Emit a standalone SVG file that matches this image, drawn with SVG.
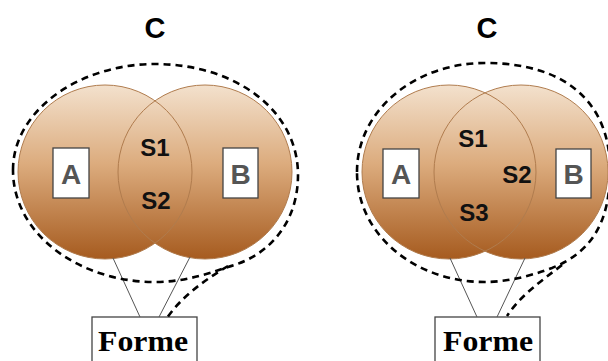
<svg xmlns="http://www.w3.org/2000/svg" width="608" height="361" viewBox="0 0 608 361">
<defs>
<linearGradient id="g" x1="0" y1="0" x2="0" y2="1">
<stop offset="0" stop-color="#f3e1cd"/>
<stop offset="0.45" stop-color="#dcac7e"/>
<stop offset="1" stop-color="#a65b1f"/>
</linearGradient>
</defs>
<style>
.circ{fill:url(#g);stroke:none}
.circs{fill:none;stroke:#b07c4e;stroke-width:1}
.bub{fill:none;stroke:#000;stroke-width:2.6;stroke-dasharray:7 5}
.box{fill:#fff;stroke:#444;stroke-width:1.3}
.lab{font-family:"Liberation Sans",Arial,sans-serif;font-weight:bold;font-size:28px;fill:#555;text-anchor:middle}
.s{font-family:"Liberation Sans",Arial,sans-serif;font-weight:bold;font-size:24px;fill:#111;text-anchor:middle}
.t{font-family:"Liberation Sans",Arial,sans-serif;font-weight:bold;font-size:29px;fill:#000;text-anchor:middle}
.f{font-family:"Liberation Serif","Times New Roman",serif;font-weight:bold;font-size:30px;fill:#000}
.ln{stroke:#555;stroke-width:1;fill:none}
</style>
<g id="left">
<text class="t" x="155" y="38">C</text>
<g id="left-venn">
<circle class="circ" cx="105" cy="172" r="87"/>
<circle class="circ" cx="205" cy="172" r="87"/>
<circle class="circs" cx="105" cy="172" r="87"/>
<circle class="circs" cx="205" cy="172" r="87"/>
</g>
<g id="left-A"><rect class="box" x="53" y="148" width="36" height="50"/><text class="lab" x="71" y="184">A</text></g>
<g id="left-B"><rect class="box" x="223" y="148" width="35" height="50"/><text class="lab" x="240.5" y="184">B</text></g>
<g id="left-S"><text class="s" x="155" y="156">S1</text><text class="s" x="156" y="209">S2</text></g>
<g id="left-forme"><rect class="box" x="92" y="317" width="105" height="60"/><text class="f" x="98" y="351" textLength="90" lengthAdjust="spacingAndGlyphs">Forme</text></g>
</g>
<g id="right">
<text class="t" x="487" y="38">C</text>
<g id="right-venn">
<circle class="circ" cx="449" cy="172" r="87"/>
<circle class="circ" cx="521" cy="172" r="87"/>
<circle class="circs" cx="449" cy="172" r="87"/>
<circle class="circs" cx="521" cy="172" r="87"/>
</g>
<g id="right-A"><rect class="box" x="383" y="149" width="36" height="49"/><text class="lab" x="401" y="184">A</text></g>
<g id="right-B"><rect class="box" x="556" y="149" width="35" height="49"/><text class="lab" x="573.5" y="184">B</text></g>
<g id="right-S"><text class="s" x="473" y="147">S1</text><text class="s" x="517" y="183">S2</text><text class="s" x="474" y="221">S3</text></g>
<g id="right-forme"><rect class="box" x="435" y="317" width="105" height="60"/><text class="f" x="443" y="351" textLength="90" lengthAdjust="spacingAndGlyphs">Forme</text></g>
</g>
<g id="connectors">
<path class="ln" d="M113 258 L140 317 M190 257 L159 317"/>
<path class="ln" d="M450 258 L477 317 M525 258 L497 317"/>
<path class="bub" d="M13 170 C13 110 80 64 155 64 C235 64 298 110 298 175 C298 220 272 255 228 267 C202 276 180 282 155 282 C80 282 13 235 13 170 Z"/>
<path class="bub" d="M228 266 C205 280 182 296 167 318"/>
<path class="bub" d="M357 172 C357 110 415 63 485 63 C563 63 610 100 610 170 C610 222 592 252 552 268 C528 277 505 282 485 282 C415 282 357 235 357 172 Z"/>
<path class="bub" d="M562 265 C540 282 520 296 507 316"/>
</g>
</svg>
